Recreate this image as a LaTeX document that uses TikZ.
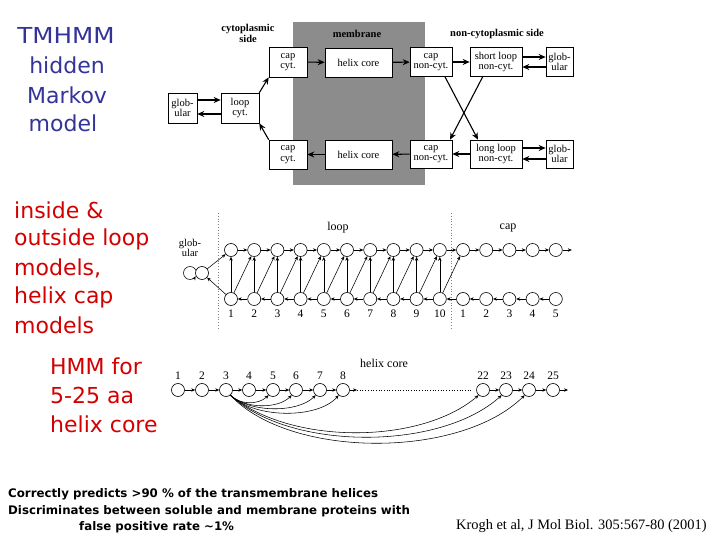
\documentclass[tikz,border=0pt]{standalone}
\usepackage{fontspec}
\setmainfont{Liberation Serif}
\newfontfamily\comic{DejaVu Sans}
\usetikzlibrary{arrows.meta,calc}
\definecolor{tblue}{RGB}{51,51,153}
\definecolor{tred}{RGB}{210,0,0}
\definecolor{memb}{RGB}{140,140,140}
\begin{document}
\begin{tikzpicture}[x=1pt,y=-1pt,
  box/.style={draw, fill=white, align=center, inner sep=0pt, font=\fontsize{10.5}{10.5}\selectfont, line width=0.6pt},
  arr/.style={-{Stealth[length=7pt,width=6pt]}, line width=1.1pt},
  st/.style={circle, draw, minimum size=13pt, inner sep=0pt, line width=0.6pt},
  sa/.style={-{Stealth[length=4pt,width=3.4pt]}, line width=0.55pt},
  num/.style={font=\fontsize{11.5}{12}\selectfont, inner sep=0pt},
  lbl/.style={font=\fontsize{12}{12}\selectfont, inner sep=0pt},
  hdr/.style={font=\bfseries\fontsize{10.5}{11}\selectfont, align=center, inner sep=0pt},
  bside/.style={font=\comic\fontsize{22}{25}\selectfont, text=tblue, inner sep=0pt},
  rside/.style={font=\comic\fontsize{22}{25}\selectfont, text=tred, inner sep=0pt, anchor=west},
  foot/.style={font=\comic\bfseries\fontsize{11.8}{13}\selectfont, inner sep=0pt, anchor=west},
]
\useasboundingbox (0,0) rectangle (720,540);

% ---------- left texts ----------
\node[bside, xscale=1.12] (l1) at (66,35) {TMHMM};
\node[bside] (l2) at (67,65) {hidden};
\node[bside] (l3) at (67,95) {Markov};
\node[bside] (l4) at (63,123) {model};
\node[rside] (r1) at (14,210) {inside \&};
\node[rside] (r2) at (14,239) {outside loop};
\node[rside] (r3) at (14,268) {models,};
\node[rside] (r4) at (14,297) {helix cap};
\node[rside] (r5) at (14,325) {models};
\node[rside] (r6) at (50,366) {HMM for};
\node[rside] (r7) at (50,395) {5-25 aa};
\node[rside] (r8) at (50,424) {helix core};

% ---------- top model ----------
\fill[memb] (293,22) rectangle (425,185);
\node[hdr] (hcyt) at (248,33) {cytoplasmic\\side};
\node[hdr] (hmem) at (357,34) {membrane};
\node[hdr] (hnon) at (497,34) {non-cytoplasmic side};

\node[box, minimum width=38pt, minimum height=30pt] (capT) at (288,62) {cap\\cyt.};
\node[box, minimum width=67pt, minimum height=29pt] (helT) at (358.5,62.5) {helix core};
\node[box, minimum width=42pt, minimum height=29pt] (cncT) at (431,62) {cap\\non-cyt.};
\node[box, minimum width=52pt, minimum height=29pt] (slT) at (496,62) {short loop\\non-cyt.};
\node[box, minimum width=27pt, minimum height=29pt] (gTR) at (559.5,62) {glob-\\ular};
\node[box, minimum width=29pt, minimum height=30pt] (gL) at (182.5,108) {glob-\\ular};
\node[box, minimum width=38pt, minimum height=30pt] (loopC) at (240,108) {loop\\cyt.};
\node[box, minimum width=38pt, minimum height=29pt] (capB) at (288,154.5) {cap\\cyt.};
\node[box, minimum width=67pt, minimum height=29pt] (helB) at (358.5,154.5) {helix core};
\node[box, minimum width=42pt, minimum height=28pt] (cncB) at (431,154) {cap\\non-cyt.};
\node[box, minimum width=52pt, minimum height=28pt] (llB) at (496,154) {long loop\\non-cyt.};
\node[box, minimum width=27pt, minimum height=28pt] (gBR) at (559.5,154) {glob-\\ular};

\draw[arr] (capT) -- (helT);
\draw[arr] (helT) -- (cncT);
\draw[arr] (cncT) -- (slT);
\draw[arr] ($(slT.east)+(0,-5)$) -- ($(gTR.west)+(0,-5)$);
\draw[arr] ($(gTR.west)+(0,5)$) -- ($(slT.east)+(0,5)$);
\draw[arr] ($(gL.east)+(0,-8)$) -- ($(loopC.west)+(0,-8)$);
\draw[arr] ($(loopC.west)+(0,6)$) -- ($(gL.east)+(0,6)$);
\draw[arr] (loopC.north east) -- (capT.south west);
\draw[arr] (capB.north west) -- (loopC.south east);
\draw[arr] ($(cncT.south)+(14,0)$) -- ($(llB.north)+(-18,0)$);
\draw[arr] ($(slT.north)+(-13,29)$) -- ($(cncB.north)+(19,0)$);
\draw[arr] (llB) -- (cncB);
\draw[arr] (cncB) -- (helB);
\draw[arr] (helB) -- (capB);
\draw[arr] ($(llB.east)+(0,-6)$) -- ($(gBR.west)+(0,-6)$);
\draw[arr] ($(gBR.west)+(0,5)$) -- ($(llB.east)+(0,5)$);

% ---------- loop / cap model ----------
\draw[gray, dotted, line width=0.8pt] (218,213) -- (218,330);
\draw[gray, dotted, line width=0.8pt] (451,213) -- (451,330);
\node[lbl] (lloop) at (338,228) {loop};
\node[lbl] (lcap) at (508,228) {cap};
\node[lbl, align=center, font=\fontsize{10.5}{10}\selectfont] (lglob) at (190,248) {glob-\\ular};

\foreach \i in {1,...,15} {
  \pgfmathsetmacro\xx{231+23.2*(\i-1)}
  \node[st] (t\i) at (\xx,250) {};
  \node[st] (b\i) at (\xx,299) {};
}
\foreach \i in {1,...,10} { \node[num] (nb\i) at ($(b\i)+(0,15)$) {\i}; }
\foreach \i [evaluate=\i as \j using int(\i+10)] in {1,...,5} { \node[num] (nc\i) at ($(b\j)+(0,15)$) {\i}; }
\foreach \i [evaluate=\i as \j using int(\i+1)] in {1,...,14} {
  \draw[sa] (t\i) -- (t\j);
  \draw[sa] (b\j) -- (b\i);
}
\foreach \i [evaluate=\i as \j using int(\i+1)] in {1,...,10} {
  \draw[sa] (b\i) -- (t\i);
  \draw[sa] (b\i) -- (t\j);
}
\coordinate (tout) at ($(t15)+(16,0)$);
\draw[sa] (t15) -- (tout);
\node[st] (g) at (202,273) {};
\draw[sa] (g) -- (t1);
\draw[sa] (b1) -- (g);
\draw[sa] (196,270.5) arc[start angle=22.6, end angle=330, radius=6.5pt];

% ---------- helix core model ----------
\node[lbl] (lhel) at (384,363) {helix core};
\foreach \n/\x in {1/178,2/202,3/226,4/249,5/273,6/296,7/320,8/343,22/483,23/506,24/529,25/553} {
  \node[st] (h\n) at (\x,390) {};
  \node[num, font=\fontsize{11.5}{12}\selectfont] (hn\n) at (\x,376) {\n};
}
\foreach \a/\b in {1/2,2/3,3/4,4/5,5/6,6/7,7/8,22/23,23/24,24/25} { \draw[sa] (h\a) -- (h\b); }
\coordinate (h8e) at (357,390);
\coordinate (dend) at (473,390);
\coordinate (h25e) at (568,390);
\draw[sa] (h8) -- (h8e);
\draw[dotted, line width=0.7pt] (h8e) -- (dend);
\draw[sa] (h25) -- (h25e);
\draw[sa] (h3.-50) .. controls (240,405) and (258,405) .. (h5.230);
\draw[sa] (h3.-50) .. controls (245,409) and (278,409) .. (h6.230);
\draw[sa] (h3.-50) .. controls (250,413) and (298,413) .. (h7.230);
\draw[sa] (h3.-50) .. controls (255,419) and (318,419) .. (h8.230);
\draw[sa] (h3.-50) .. controls (290,445) and (420,445) .. (h22.230);
\draw[sa] (h3.-50) .. controls (290,451) and (440,451) .. (h23.230);
\draw[sa] (h3.-50) .. controls (290,459) and (460,459) .. (h24.230);

% ---------- footer ----------
\node[foot] (f1) at (8,494) {Correctly predicts >90 \% of the transmembrane helices};
\node[foot] (f2) at (8,511) {Discriminates between soluble and membrane proteins with};
\node[foot] (f3) at (79,527) {false positive rate \textasciitilde 1\%};
\node[font=\fontsize{14.4}{15}\selectfont, inner sep=0pt, anchor=west] (cite) at (456,526) {Krogh et al, J Mol Biol. 305:567-80 (2001)};
\end{tikzpicture}
\end{document}
